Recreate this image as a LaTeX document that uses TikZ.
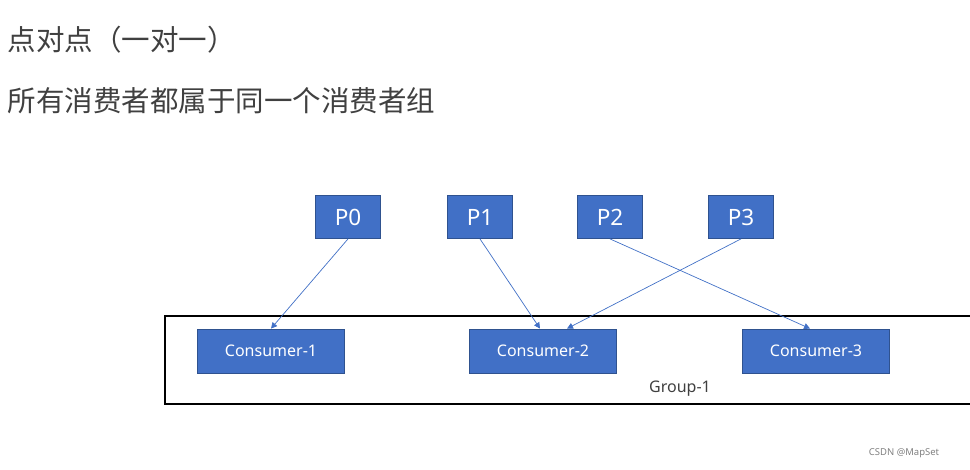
\documentclass[tikz,border=0pt]{standalone}
\usepackage{fontspec}
\setmainfont{Noto Sans}
\newfontfamily\cjk{Noto Sans CJK SC}
\usetikzlibrary{arrows.meta, positioning}
\definecolor{partblue}{HTML}{4170C6}
\definecolor{partedge}{HTML}{2F528F}
\definecolor{textgray}{HTML}{404040}

\begin{document}
\begin{tikzpicture}[x=1pt, y=-1pt,
    pbox/.style={draw=partedge, fill=partblue, line width=0.8pt, text=white, inner sep=0pt,
        minimum width=65pt, minimum height=43pt, font=\fontsize{22.5}{26}\selectfont},
    cbox/.style={draw=partedge, fill=partblue, line width=0.8pt, text=white, inner sep=0pt,
        minimum width=147pt, minimum height=44pt, font=\fontsize{16}{19}\selectfont},
    link/.style={draw=partblue, line width=0.7pt, -{Triangle[length=6pt, width=6pt]}}]
    \useasboundingbox (0,0) rectangle (970,469);

    \node[anchor=west, text=textgray, font=\cjk\fontsize{28.5}{33}\selectfont] (title) at (4,40) {点对点（一对一）};
    \node[anchor=west, text=textgray, font=\cjk\fontsize{28.5}{33}\selectfont] (subtitle) at (4,101) {所有消费者都属于同一个消费者组};

    \node[draw=black, line width=1.3pt, minimum width=806pt, minimum height=88pt, inner sep=0pt] (group) at (568,360) {};
    \node[text=textgray, font=\fontsize{16}{19}\selectfont] (grouplabel) at (680,389) {Group-1};

    \node[pbox] (p0) at (348,217) {P0};
    \node[pbox] (p1) at (480,217) {P1};
    \node[pbox] (p2) at (610,217) {P2};
    \node[pbox] (p3) at (741,217) {P3};

    \node[cbox] (c1) at (271,351) {Consumer-1};
    \node[cbox] (c2) at (543,351) {Consumer-2};
    \node[cbox] (c3) at (816,351) {Consumer-3};

    \draw[link] (p0.south) -- (c1.north);
    \draw[link] (p1.south) -- ([xshift=-3pt]c2.north);
    \draw[link] (p3.south) -- ([xshift=24pt]c2.north);
    \draw[link] (p2.south) -- ([xshift=-6pt]c3.north);

    \node[text=gray, font=\fontsize{9.5}{11}\selectfont] (credit) at (904,453) {CSDN @MapSet};
\end{tikzpicture}
\end{document}
